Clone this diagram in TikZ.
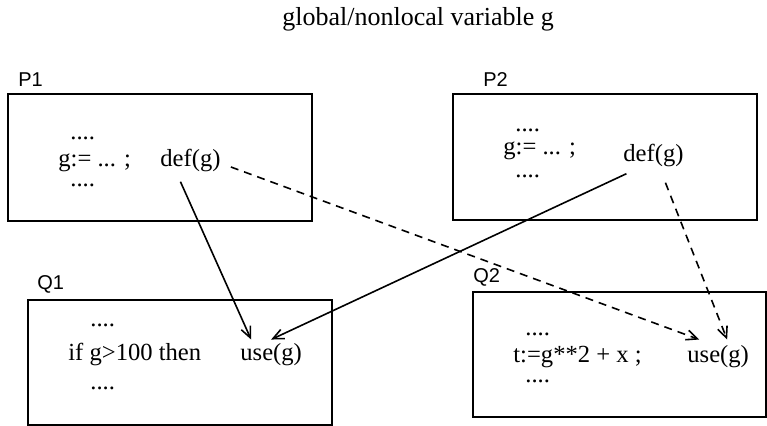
\documentclass[tikz,border=0pt]{standalone}
\usepackage{fontspec}
\setmainfont{Liberation Serif}
\newfontfamily\labfont{Liberation Sans}
\usetikzlibrary{arrows.meta,calc}
\begin{document}
\begin{tikzpicture}[x=0.5pt,y=-0.5pt,
  box/.style={draw,line width=0.8pt,inner sep=0pt},
  txt/.style={inner sep=0pt,anchor=base west,font=\fontsize{12.3pt}{14pt}\selectfont},
  dots/.style={txt,text height=1.5pt,text depth=0pt},
  lab/.style={inner sep=0pt,anchor=base west,font=\labfont\fontsize{10pt}{12pt}\selectfont},
  flow/.style={line width=0.8pt,-{Straight Barb[length=5.5pt,width=5pt,line width=0.8pt]}},
  dflow/.style={flow,dash pattern=on 4pt off 3pt}]
\useasboundingbox (0,0) rectangle (767,426);
% title
\node[inner sep=0pt,anchor=base west,font=\fontsize{13pt}{15pt}\selectfont] (title) at (282,26) {global/nonlocal variable g};
% boxes
\node[box,minimum width=152pt,minimum height=63.5pt] (P1) at (160,157.5) {};
\node[box,minimum width=152pt,minimum height=63pt] (P2) at (605,157) {};
\node[box,minimum width=152pt,minimum height=62.5pt] (Q1) at (180,362.5) {};
\node[box,minimum width=146.5pt,minimum height=62.5pt] (Q2) at (619.5,354.5) {};
% labels
\node[lab] (lP1) at (18,87) {P1};
\node[lab] (lP2) at (483,87) {P2};
\node[lab] (lQ1) at (37,290) {Q1};
\node[lab] (lQ2) at (473,283) {Q2};
% P1 text
\node[dots] (p1a) at (70,140) {....};
\node[txt] (p1b) at (58,167) {g:= ... ;};
\node[txt] (defa) at (160,167) {def(g)};
\node[dots] (p1c) at (70,187) {....};
% P2 text
\node[dots] (p2a) at (515,132) {....};
\node[txt] (p2b) at (503,155) {g:= ... ;};
\node[txt] (defb) at (623,162) {def(g)};
\node[dots] (p2c) at (515,178) {....};
% Q1 text
\node[dots] (q1a) at (90,327) {....};
\node[txt] (q1b) at (68,361) {if g>100 then};
\node[txt] (usea) at (240,361) {use(g)};
\node[dots] (q1c) at (90,390) {....};
% Q2 text
\node[dots] (q2a) at (525,336) {....};
\node[txt] (q2b) at (513,363) {t:=g**2 + x ;};
\node[txt] (useb) at (687,363) {use(g)};
\node[dots] (q2c) at (525,383) {....};
% connectors
\draw[flow] ($(defa.south)+(-10,9)$) -- ($(usea.north)+(-20,-4)$);
\draw[flow] ($(defb.south)+(-27,6)$) -- ($(usea.north)+(0,-4)$);
\draw[dflow] ($(defa.east)+(10,6)$) -- ($(useb.north)+(-19,-6)$);
\draw[dflow] ($(defb.south)+(12,15)$) -- ($(useb.north)+(9,-6)$);
\end{tikzpicture}
\end{document}
